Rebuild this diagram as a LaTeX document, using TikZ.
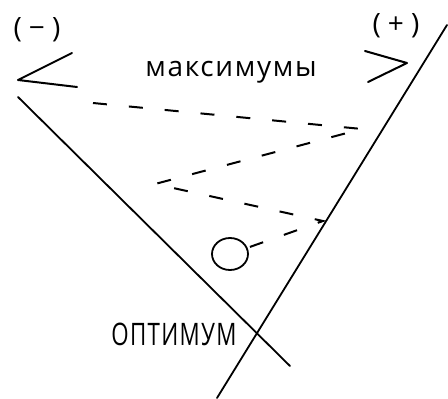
\documentclass[tikz,border=0pt]{standalone}
\usepackage{fontspec}
\setmainfont{Open Sans}
\newfontfamily\handfont[LetterSpace=6]{Open Sans}
\usetikzlibrary{shapes.geometric}
\tikzset{
  edgeln/.style={line width=1.8pt, line cap=round},
  signln/.style={line width=2pt, line cap=round, line join=round},
  searchln/.style={dash pattern=on 14pt off 22pt, line width=2pt},
  lbl/.style={inner sep=0pt, font=\fontsize{28}{30}\selectfont},
  word/.style={inner sep=0pt, font=\handfont\fontsize{28}{30}\selectfont},
}

\begin{document}
\begin{tikzpicture}[x=1pt,y=-1pt]
    \useasboundingbox (0,0) rectangle (448,399);
    % the two boundaries
    \coordinate (lt) at (18,97);
    \coordinate (lb) at (290,366);
    \coordinate (rt) at (447,25);
    \coordinate (rb) at (217,398);
    \draw[edgeln] (lt) -- (lb);
    \draw[edgeln] (rt) -- (rb);
    % signs at the top
    \node[lbl] (minus) at (37,30) {(\kern7pt−\kern7pt)};
    \node[lbl] (plus) at (396,26) {(\kern7pt+\kern7pt)};
    \draw[signln] (72,53) -- (18,80) -- (77,87);
    \draw[signln] (365,51) -- (407,63) -- (368,82);
    \node[word] (maxima) at (231,72) {максимумы};
    % the search path
    \node[draw, ellipse, line width=1.8pt, minimum width=36pt, minimum height=32pt,
      inner sep=0pt] (opt) at (230,254) {};
    \coordinate (z1) at (93,103);
    \coordinate (z2) at (362,129);
    \coordinate (z3) at (155,184);
    \coordinate (z4) at (323,221);
    \draw[searchln] (z1) -- (z2) -- (z3) -- (z4) -- (opt);
    \node[word] (optimum) at (174,334) {\scalebox{0.72}[1]{\fontsize{31}{33}\selectfont ОПТИМУМ}};
\end{tikzpicture}
\end{document}
